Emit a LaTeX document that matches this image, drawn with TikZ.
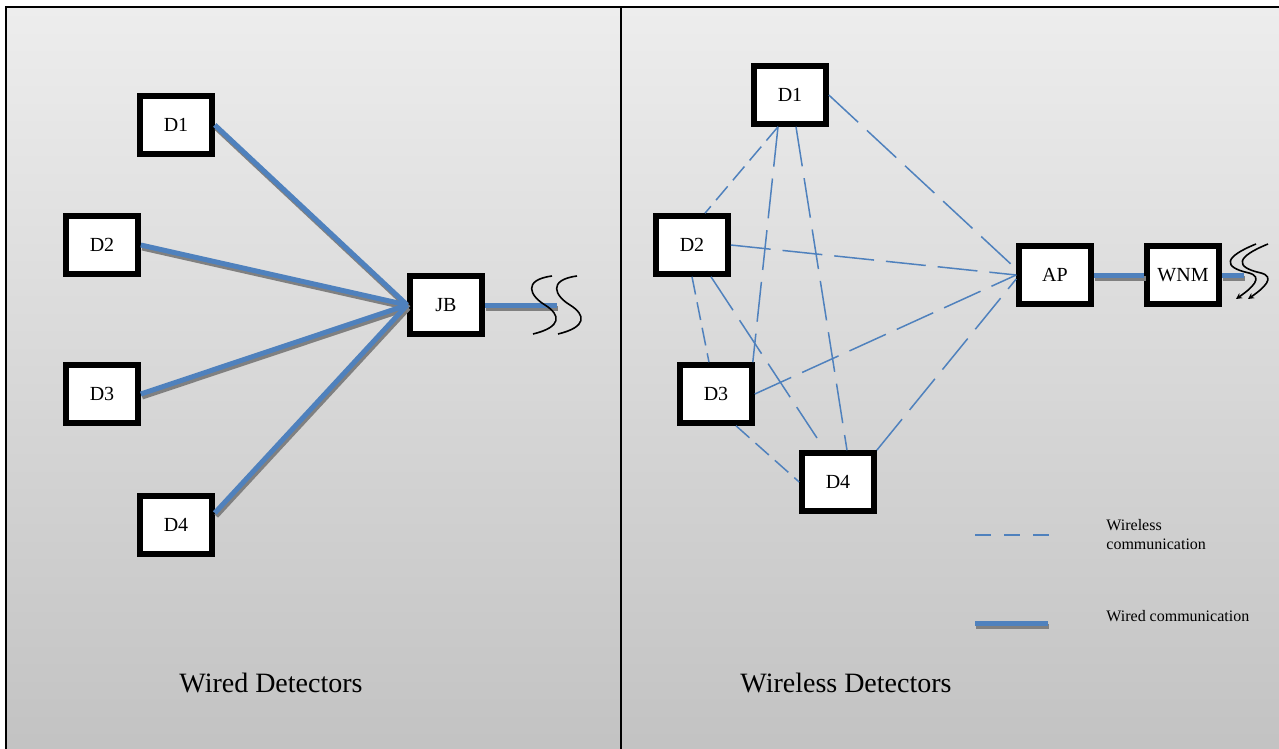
\documentclass[tikz,border=0pt]{standalone}
\usepackage{fontspec}
\setmainfont{Liberation Serif}
\usetikzlibrary{arrows.meta}
\definecolor{wireblue}{RGB}{79,129,189}
\definecolor{shadowgray}{RGB}{128,128,128}
\definecolor{bgtop}{RGB}{237,237,237}
\definecolor{bgbottom}{RGB}{194,194,194}
\tikzset{wired/.style={line width=2.5pt,wireblue,
			preaction={draw=shadowgray,line width=2.5pt,transform canvas={shift={(0.7pt,-1.5pt)}}}},
	wless/.style={wireblue,line width=0.75pt,dash pattern=on 9pt off 4pt},
	wlesslong/.style={wireblue,line width=0.75pt,dash pattern=on 20pt off 6pt}}

\begin{document}
\begin{tikzpicture}[x=0.5pt,y=-0.5pt,
	box/.style={draw,line width=2.8pt,fill=white,minimum width=36pt,minimum height=29pt,inner sep=0pt,font=\fontsize{10}{12}\selectfont},
	title/.style={font=\fontsize{14}{16}\selectfont,anchor=base},
	legend/.style={font=\fontsize{8}{9.5}\selectfont,anchor=west,align=left,inner sep=0pt}]
\useasboundingbox (0,0) rectangle (1279,749);
\clip (0,0) rectangle (1279,749);

% background and frame
\shade[top color=bgtop,bottom color=bgbottom] (6,7) rectangle (1300,760);
\draw[line width=1pt] (6,760) -- (6,7) -- (1300,7);
\draw[line width=1pt] (621,7) -- (621,760);

% wired detectors
\foreach \n/\x/\y in {1/176/125,2/102/245,3/102/394,4/176/525} {
	\node[box] (L\n) at (\x,\y) {D\n};
};
\node[box] (JB) at (446,305) {JB};
\coordinate (jbend) at (557,305);

\foreach \n in {1,2,3} {
	\draw[wired] (L\n.east) -- (JB.west);
};
\draw[wired] ([yshift=6pt]L4.east) -- (JB.west);
\draw[wired] (JB.east) -- (jbend);

\foreach \dx in {0,25} {
	\draw[line width=0.8pt,shift={(\dx,0)}] (552,276) .. controls (522,280) and (530,296) .. (545,305)
		.. controls (561,315) and (562,327) .. (533,334);
};

% wireless detectors
\foreach \n/\x/\y in {1/790/95,2/692/245,3/716/394,4/838/482} {
	\node[box] (R\n) at (\x,\y) {D\n};
};
\node[box] (AP) at (1055,275) {AP};
\node[box] (WNM) at (1183,275) {WNM};
\coordinate (d24end) at (817,438);
\coordinate (wnmend) at (1244,275);

\draw[wless] ([xshift=-6pt]R1.south) -- ([xshift=6.5pt]R2.north);
\draw[wlesslong] ([xshift=-6pt]R1.south) -- ([xshift=-1pt]R3.north east);
\draw[wlesslong] ([xshift=3pt]R1.south) -- ([xshift=4.5pt]R4.north);
\draw[wlesslong] (R1.east) -- ([yshift=3pt]AP.west);
\draw[wlesslong] (R2.east) -- (AP.west);
\draw[wless] (R2.south) -- ([xshift=-3.5pt]R3.north);
\draw[wlesslong] ([xshift=9.5pt]R2.south) -- (d24end);
\draw[wlesslong] (R3.east) -- (AP.west);
\draw[wless] ([xshift=10pt]R3.south) -- (R4.west);
\draw[wlesslong] (R4.north east) -- ([yshift=-2pt]AP.west);

\draw[wired] (AP.east) -- (WNM.west);
\draw[wired] (WNM.east) -- (wnmend);

\foreach \dx in {0,12} {
	\draw[line width=0.8pt,-{Stealth[length=3pt,width=3pt]},shift={(\dx,0)}] (1256,244) .. controls (1224,257) and (1222,267) .. (1249,273)
		.. controls (1264,277) and (1252,288) .. (1236,299);
};

% legend
\draw[wless,dash pattern=on 8pt off 6.5pt] (975,535) -- (1050,535);
\node[legend] (lgwless) at (1106,535) {Wireless\\communication};
\draw[wired] (975,623) -- (1048,623);
\node[legend] (lgwired) at (1106,616) {Wired communication};

% titles
\node[title] (wiredtitle) at (271,692) {Wired Detectors};
\node[title] (wlesstitle) at (846,692) {Wireless Detectors};

\end{tikzpicture}
\end{document}
